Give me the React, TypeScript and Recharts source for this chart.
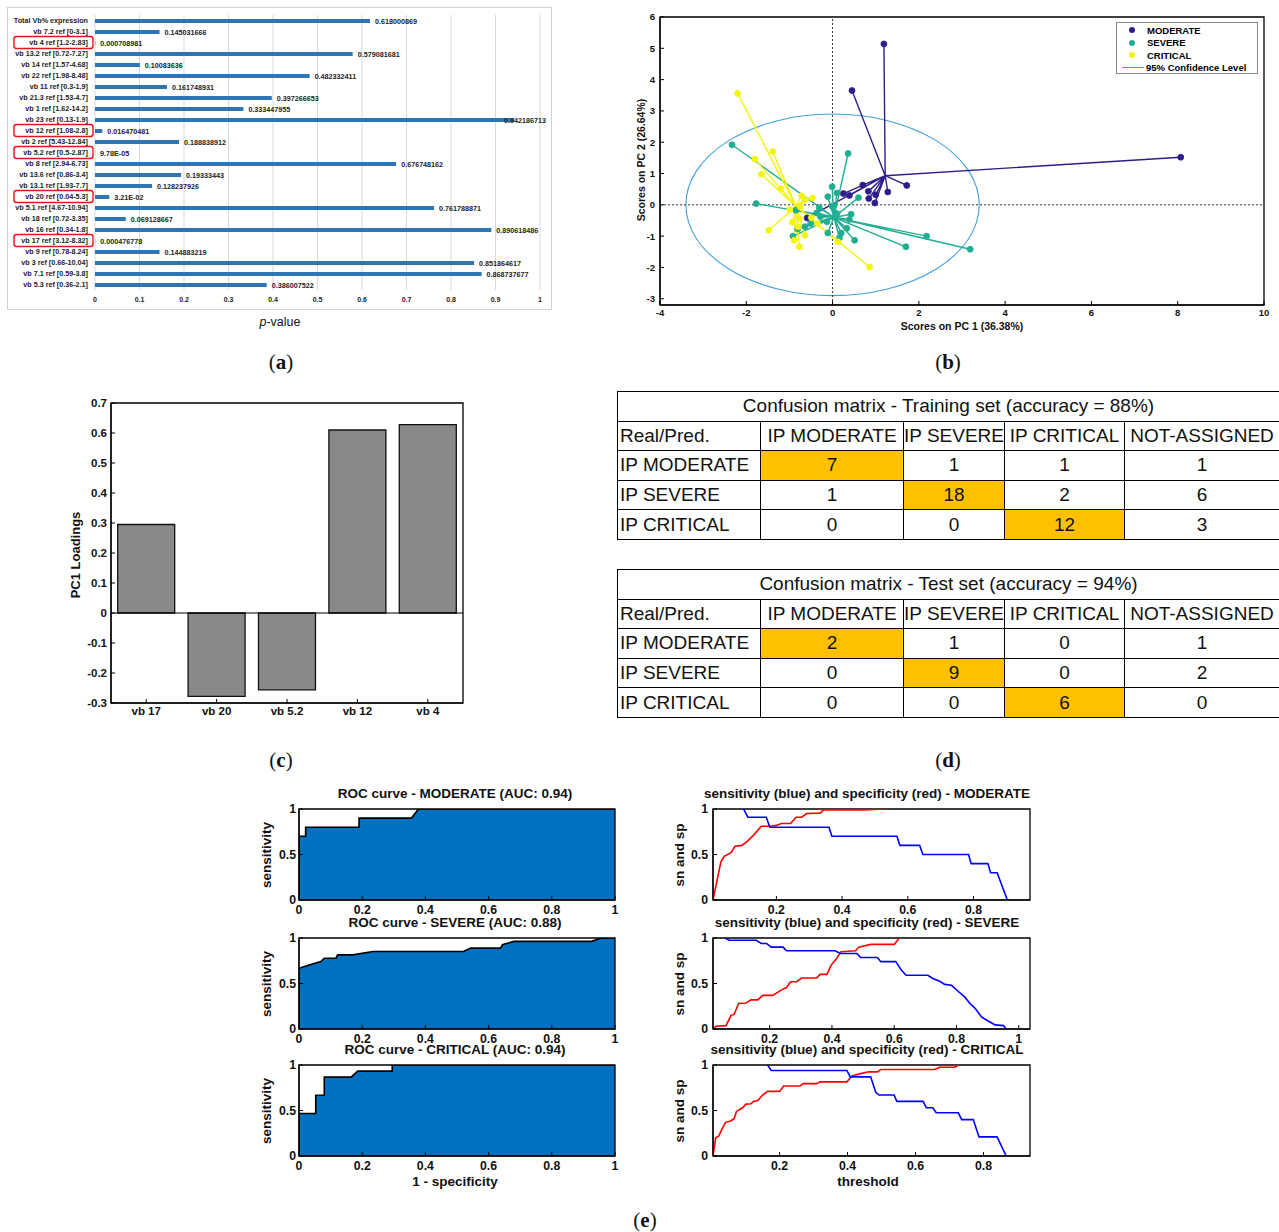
import React from "react";
import {
  BarChart,
  Bar,
  XAxis,
  YAxis,
  CartesianGrid,
  LabelList,
  ScatterChart,
  Scatter,
  ReferenceLine,
  ReferenceArea,
  ComposedChart,
  Area,
  LineChart,
  Line,
} from "recharts";

const FONT = "'Liberation Sans', Arial, Helvetica, sans-serif";
const SERIF = "'Liberation Serif', 'Times New Roman', serif";

// ---------- (a) p-values per Vb family ----------
const pCategories = [
  "Total Vb% expression",
  "vb 7.2  ref [0-3.1]",
  "vb 4  ref [1.2-2.83]",
  "vb 13.2  ref [0.72-7.27]",
  "vb 14  ref [1.57-4.68]",
  "vb 22  ref [1.98-8.48]",
  "vb 11  ref [0.3-1.9]",
  "vb 21.3  ref [1.53-4.7]",
  "vb 1  ref [1.62-14.2]",
  "vb 23  ref [0.13-1.9]",
  "vb 12  ref [1.08-2.8]",
  "vb 2  ref [5.43-12.84]",
  "vb 5.2  ref [0.5-2.87]",
  "vb 8  ref [2.94-6.73]",
  "vb 13.6  ref [0.86-3.4]",
  "vb 13.1  ref [1.93-7.7]",
  "vb 20 ref [0.04-5.3]",
  "vb 5.1 ref [4.67-10.94]",
  "vb 18 ref [0.72-3.35]",
  "vb 16 ref [0.34-1.8]",
  "vb 17 ref [3.12-8.32]",
  "vb 9 ref [0.78-8.24]",
  "vb 3 ref [0.66-10.04]",
  "vb 7.1 ref [0.59-3.8]",
  "vb 5.3 ref [0.36-2.1]",
];
const pValues = [
  0.618000869, 0.145031666, 0.000708981, 0.579081681, 0.10083636, 0.482332411,
  0.161748931, 0.397266653, 0.333447955, 0.942186713, 0.016470481, 0.188838912,
  0.0000978, 0.676748162, 0.19333443, 0.128237926, 0.0321, 0.761788871,
  0.069128667, 0.890618486, 0.000476778, 0.144883219, 0.851864617, 0.868737677,
  0.386007522,
];
const pLabels = [
  "0.618000869", "0.145031666", "0.000708981", "0.579081681", "0.10083636",
  "0.482332411", "0.161748931", "0.397266653", "0.333447955", "0.942186713",
  "0.016470481", "0.188838912", "9.78E-05", "0.676748162", "0.19333443",
  "0.128237926", "3.21E-02", "0.761788871", "0.069128667", "0.890618486",
  "0.000476778", "0.144883219", "0.851864617", "0.868737677", "0.386007522",
];
const pSignificant = [
  "vb 4  ref [1.2-2.83]",
  "vb 12  ref [1.08-2.8]",
  "vb 5.2  ref [0.5-2.87]",
  "vb 20 ref [0.04-5.3]",
  "vb 17 ref [3.12-8.32]",
];
const pTicks = [0, 0.1, 0.2, 0.3, 0.4, 0.5, 0.6, 0.7, 0.8, 0.9, 1];

// ---------- (b) PCA scores ----------
const moderateCenter = { x: 1.22, y: 0.93 };
const moderateScores = [
  { x: 1.19, y: 5.14 }, { x: 0.45, y: 3.65 }, { x: 8.07, y: 1.52 },
  { x: 1.72, y: 0.62 }, { x: 1.28, y: 0.41 }, { x: 0.7, y: 0.63 },
  { x: 1.0, y: 0.32 }, { x: 0.83, y: 0.43 }, { x: 0.98, y: 0.06 },
  { x: 0.84, y: 0.2 }, { x: 0.39, y: 0.3 }, { x: 0.25, y: 0.36 },
  { x: -0.59, y: -0.42 },
];
const severeCenter = { x: 0.03, y: -0.4 };
const severeScores = [
  { x: -2.33, y: 1.92 }, { x: 0.36, y: 1.64 }, { x: -1.77, y: 0.04 },
  { x: -0.01, y: 0.58 }, { x: 0.1, y: 0.38 }, { x: -0.11, y: 0.26 },
  { x: 0.6, y: 0.23 }, { x: -0.85, y: -0.17 }, { x: -0.31, y: -0.09 },
  { x: -0.01, y: -0.04 }, { x: 0.43, y: -0.3 }, { x: 0.39, y: -0.47 },
  { x: 0.33, y: -0.75 }, { x: 0.2, y: -0.9 }, { x: 0.16, y: -1.05 },
  { x: -0.11, y: -0.9 }, { x: 0.51, y: -1.13 }, { x: 1.7, y: -1.34 },
  { x: 2.18, y: -1.0 }, { x: 3.19, y: -1.42 }, { x: -0.92, y: -1.0 },
  { x: -0.81, y: -0.77 }, { x: -0.64, y: -0.7 }, { x: -0.51, y: -0.6 },
  { x: -0.28, y: -0.38 }, { x: -0.13, y: -0.54 }, { x: -0.37, y: -0.26 },
  { x: 0.1, y: -0.28 },
];
const criticalCenter = { x: -0.85, y: -0.05 };
const criticalScores = [
  { x: -2.2, y: 3.56 }, { x: -1.8, y: 1.46 }, { x: -1.39, y: 1.7 },
  { x: -1.65, y: 0.98 }, { x: -1.2, y: 0.52 }, { x: -0.72, y: 0.29 },
  { x: -0.64, y: 0.17 }, { x: -0.47, y: 0.22 }, { x: -0.99, y: -0.15 },
  { x: -0.75, y: -0.06 }, { x: -1.48, y: -0.81 }, { x: -0.93, y: -0.55 },
  { x: -0.89, y: -1.13 }, { x: -0.77, y: -1.34 }, { x: -0.64, y: -0.97 },
  { x: -0.77, y: -0.44 }, { x: -0.49, y: -0.41 }, { x: -0.35, y: -0.6 },
  { x: 0.12, y: -1.18 }, { x: 0.86, y: -1.99 }, { x: -0.8, y: -0.7 },
];
const confidence95 = { cx: 0, cy: 0, rx: 3.4, ry: 2.9 };
const pc1Ticks = [-4, -2, 0, 2, 4, 6, 8, 10];
const pc2Ticks = [-3, -2, -1, 0, 1, 2, 3, 4, 5, 6];

// ---------- (c) PC1 loadings ----------
const loadingVars = ["vb 17", "vb 20", "vb 5.2", "vb 12", "vb 4"];
const loadingValues = [0.295, -0.278, -0.256, 0.61, 0.628];
const loadingTicks = [-0.3, -0.2, -0.1, 0, 0.1, 0.2, 0.3, 0.4, 0.5, 0.6, 0.7];

// ---------- (d) confusion matrices ----------
const cmClasses = ["IP MODERATE", "IP SEVERE", "IP CRITICAL"];
const cmColumns = ["IP MODERATE", "IP SEVERE", "IP CRITICAL", "NOT-ASSIGNED"];
const trainMatrix = [
  [7, 1, 1, 1],
  [1, 18, 2, 6],
  [0, 0, 12, 3],
];
const testMatrix = [
  [2, 1, 0, 1],
  [0, 9, 0, 2],
  [0, 0, 6, 0],
];

// ---------- (e) ROC and sensitivity / specificity ----------
const rocModerate: [number, number][] = [
  [0, 0], [0, 0.7], [0.021, 0.7], [0.021, 0.8], [0.19, 0.8], [0.19, 0.9],
  [0.356, 0.9], [0.378, 1], [1, 1],
];
const rocSevere: [number, number][] = [
  [0, 0], [0, 0.667], [0.032, 0.704], [0.069, 0.741], [0.08, 0.778],
  [0.117, 0.778], [0.122, 0.815], [0.17, 0.815], [0.234, 0.852], [0.52, 0.852],
  [0.543, 0.889], [0.638, 0.889], [0.644, 0.926], [0.68, 0.963], [0.926, 0.963],
  [0.957, 1], [1, 1],
];
const rocCritical: [number, number][] = [
  [0, 0], [0, 0.467], [0.053, 0.467], [0.053, 0.667], [0.08, 0.667],
  [0.08, 0.867], [0.165, 0.867], [0.186, 0.933], [0.295, 0.933], [0.295, 1],
  [1, 1],
];

const snModerate: [number, number][] = [
  [0.1, 1], [0.113, 0.91], [0.169, 0.91], [0.18, 0.8], [0.36, 0.8],
  [0.369, 0.7], [0.567, 0.7], [0.576, 0.6], [0.636, 0.6], [0.646, 0.5],
  [0.785, 0.5], [0.793, 0.4], [0.844, 0.4], [0.852, 0.3], [0.872, 0.3],
  [0.903, 0],
];
const spModerate: [number, number][] = [
  [0.007, 0], [0.031, 0.42], [0.041, 0.48], [0.062, 0.52], [0.074, 0.59],
  [0.095, 0.6], [0.113, 0.65], [0.13, 0.71], [0.154, 0.81], [0.18, 0.81],
  [0.2, 0.82], [0.215, 0.84], [0.243, 0.84], [0.26, 0.91], [0.277, 0.91],
  [0.292, 0.95], [0.333, 0.955], [0.344, 0.99], [0.467, 0.99], [0.526, 1],
];
const snSevere: [number, number][] = [
  [0.057, 1], [0.07, 0.975], [0.157, 0.975], [0.173, 0.94], [0.19, 0.94],
  [0.205, 0.9], [0.243, 0.9], [0.254, 0.86], [0.41, 0.86], [0.427, 0.83],
  [0.48, 0.83], [0.492, 0.785], [0.546, 0.785], [0.557, 0.74], [0.605, 0.74],
  [0.622, 0.65], [0.638, 0.59], [0.708, 0.59], [0.724, 0.555], [0.746, 0.525],
  [0.762, 0.49], [0.784, 0.48], [0.805, 0.415], [0.827, 0.35], [0.843, 0.28],
  [0.859, 0.23], [0.881, 0.13], [0.903, 0.085], [0.924, 0.045], [0.951, 0.037],
  [0.959, 0],
];
const spSevere: [number, number][] = [
  [0.018, 0], [0.027, 0.03], [0.06, 0.037], [0.076, 0.15], [0.086, 0.16],
  [0.1, 0.28], [0.124, 0.285], [0.14, 0.32], [0.162, 0.32], [0.178, 0.37],
  [0.21, 0.37], [0.238, 0.43], [0.254, 0.455], [0.267, 0.52], [0.286, 0.52],
  [0.303, 0.56], [0.351, 0.56], [0.362, 0.6], [0.384, 0.6], [0.397, 0.7],
  [0.416, 0.78], [0.429, 0.85], [0.476, 0.86], [0.486, 0.9], [0.524, 0.93],
  [0.6, 0.93], [0.616, 1],
];
const snCritical: [number, number][] = [
  [0.165, 1], [0.175, 0.94], [0.398, 0.94], [0.408, 0.87], [0.468, 0.87],
  [0.483, 0.7], [0.493, 0.67], [0.537, 0.67], [0.545, 0.6], [0.622, 0.6],
  [0.632, 0.53], [0.651, 0.53], [0.661, 0.475], [0.726, 0.475], [0.736, 0.4],
  [0.77, 0.4], [0.787, 0.21], [0.84, 0.21], [0.867, 0],
];
const spCritical: [number, number][] = [
  [0.004, 0], [0.012, 0.2], [0.021, 0.22], [0.031, 0.3], [0.041, 0.37],
  [0.056, 0.385], [0.066, 0.41], [0.073, 0.49], [0.091, 0.53], [0.101, 0.57],
  [0.116, 0.575], [0.123, 0.6], [0.136, 0.61], [0.15, 0.67], [0.165, 0.71],
  [0.2, 0.71], [0.212, 0.77], [0.26, 0.77], [0.27, 0.795], [0.309, 0.795],
  [0.319, 0.815], [0.398, 0.815], [0.413, 0.88], [0.438, 0.905], [0.463, 0.925],
  [0.488, 0.925], [0.498, 0.95], [0.656, 0.95], [0.671, 0.975], [0.716, 0.975],
  [0.726, 1],
];
const rocTicks = [0, 0.2, 0.4, 0.6, 0.8, 1];
const unitTicks = [0, 0.5, 1];

const toXY = (pts: [number, number][]) => pts.map(([x, y]) => ({ x, y }));

// MATLAB-like axes: bold tick labels and small inward ticks
type FrameOpts = {
  xDomain?: [number, number];
  xTicks?: number[];
  xKey?: string;
  xCategory?: boolean;
  yDomain: [number, number];
  yTicks: number[];
  yKey?: string;
  yWidth: number;
  xHeight: number;
  xTickMargin: number;
  yTickMargin: number;
  fontSize: number;
};

function frameAxes(o: FrameOpts) {
  const tick = { fontSize: o.fontSize, fontWeight: 700, fill: "#111", fontFamily: FONT };
  const axisLine = { stroke: "#000", strokeWidth: 1.2 };
  const tickLine = { stroke: "#000", strokeWidth: 1 };
  const xProps: any = o.xCategory
    ? { type: "category", dataKey: o.xKey }
    : { type: "number", dataKey: o.xKey, domain: o.xDomain, ticks: o.xTicks, allowDataOverflow: true };
  const yProps: any = { type: "number", dataKey: o.yKey, domain: o.yDomain, ticks: o.yTicks, allowDataOverflow: true };
  return [
    <XAxis key="xb" {...xProps} height={o.xHeight} tick={tick} tickSize={-4} tickMargin={o.xTickMargin}
      axisLine={axisLine} tickLine={tickLine} interval={0} />,
    <YAxis key="yl" {...yProps} width={o.yWidth} tick={tick} tickSize={-4} tickMargin={o.yTickMargin}
      axisLine={axisLine} tickLine={tickLine} interval={0} />,
  ];
}

// closed box around the plot area: y spans the domain, x left open = full width
const plotBox = (yDomain: [number, number]) => (
  <ReferenceArea key="box" y1={yDomain[0]} y2={yDomain[1]} fill="none" fillOpacity={0}
    stroke="#000" strokeWidth={1.3} ifOverflow="visible" />
);

const Txt = ({ x, y, size, bold = true, rotate = false, family = FONT, children }: any) => (
  <div
    style={{
      position: "absolute",
      left: x,
      top: y,
      transform: `translate(-50%, -50%)${rotate ? " rotate(-90deg)" : ""}`,
      fontSize: size,
      fontWeight: bold ? 700 : 400,
      fontFamily: family,
      whiteSpace: "nowrap",
      lineHeight: 1,
      color: "#111",
    }}
  >
    {children}
  </div>
);

const PanelTag = ({ x, y, letter }: { x: number; y: number; letter: string }) => (
  <Txt x={x} y={y} size={21} bold={false} family={SERIF}>
    (<b>{letter}</b>)
  </Txt>
);

// ---------- (a) ----------
const CategoryTick = (props: any) => {
  const { x, y, payload } = props;
  const boxed = pSignificant.includes(payload.value);
  return (
    <g>
      {boxed && (
        <rect x={x - 74} y={y - 6} width={79} height={12} rx={2.5} fill="none" stroke="#e8141b" strokeWidth={1.4} />
      )}
      <text x={x} y={y} dy={2.6} textAnchor="end" fontSize={7.2} fontWeight={700} fill="#222" fontFamily={FONT}>
        {payload.value}
      </text>
    </g>
  );
};

// value label at the bar end, pulled back inside the frame when it would run out
const PValueLabel = (props: any) => {
  const { x, y, width, height, value } = props;
  const size = 7.2;
  const textWidth = String(value).length * size * 0.556;
  let tx = x + width + 5;
  if (tx + textWidth > 541) tx = 541 - textWidth;
  return (
    <text x={tx} y={y + height / 2} dy={2.6} fontSize={size} fontWeight={700} fill="#222" fontFamily={FONT}>
      {value}
    </text>
  );
};

function PValuePanel() {
  const data = pCategories.map((name, i) => ({ name, p: pValues[i], label: pLabels[i] }));
  return (
    <div style={{ position: "absolute", left: 7, top: 7, width: 545, height: 303 }}>
      <BarChart width={545} height={303} data={data} layout="vertical" barSize={4}
        margin={{ top: 8, right: 12, bottom: 0, left: 0 }}>
        <CartesianGrid horizontal={false} stroke="#d9d9d9" />
        <XAxis type="number" domain={[0, 1]} ticks={pTicks} interval={0} height={20} axisLine={false}
          tickLine={false} tickSize={0} tickMargin={7}
          tick={{ fontSize: 7, fontWeight: 700, fill: "#222", fontFamily: FONT }} />
        <YAxis type="category" dataKey="name" width={88} interval={0} axisLine={false} tickLine={false}
          tickSize={0} tickMargin={7} tick={<CategoryTick />} />
        <Bar dataKey="p" fill="#2E75B6" isAnimationActive={false}>
          <LabelList dataKey="label" content={<PValueLabel />} />
        </Bar>
      </BarChart>
      <div style={{ position: "absolute", left: 0, top: 0, width: 545, height: 303, border: "1px solid #d0d0d0", boxSizing: "border-box" }} />
    </div>
  );
}

// ---------- (b) ----------
const scoreGroups = [
  { name: "MODERATE", color: "#2d1e8c", center: moderateCenter, points: moderateScores },
  { name: "SEVERE", color: "#1fae91", center: severeCenter, points: severeScores },
  { name: "CRITICAL", color: "#f4f414", center: criticalCenter, points: criticalScores },
];

function ScoresPanel() {
  return (
    <div style={{ position: "absolute", left: 630, top: 7 }}>
      <ScatterChart width={649} height={318} margin={{ top: 10, right: 15, bottom: 0, left: 0 }}>
        {frameAxes({
          xDomain: [-4, 10], xTicks: pc1Ticks, xKey: "x",
          yDomain: [-3.2, 6], yTicks: pc2Ticks, yKey: "y",
          yWidth: 30, xHeight: 20, xTickMargin: 8, yTickMargin: 9, fontSize: 9.5,
        })}
        <ReferenceArea
          x1={confidence95.cx - confidence95.rx}
          x2={confidence95.cx + confidence95.rx}
          y1={confidence95.cy - confidence95.ry}
          y2={confidence95.cy + confidence95.ry}
          shape={(p: any) => (
            <ellipse cx={p.x + p.width / 2} cy={p.y + p.height / 2} rx={p.width / 2} ry={p.height / 2}
              fill="none" stroke="#3f9fdc" strokeWidth={1.1} />
          )}
        />
        <ReferenceLine x={0} stroke="#333" strokeDasharray="2 2" />
        <ReferenceLine y={0} stroke="#333" strokeDasharray="2 2" />
        {scoreGroups.map((g) => (
          <Scatter key={g.name + "-spokes"} data={g.points.flatMap((p) => [g.center, p])}
            line={{ stroke: g.color, strokeWidth: 1.4 }} shape={() => <g />} isAnimationActive={false} />
        ))}
        {scoreGroups.map((g) => (
          <Scatter key={g.name} name={g.name} data={g.points} isAnimationActive={false}
            shape={(p: any) => <circle cx={p.cx} cy={p.cy} r={3} fill={g.color} stroke={g.color} strokeWidth={0.8} />} />
        ))}
        {plotBox([-3.2, 6])}
      </ScatterChart>
      <div style={{ position: "absolute", left: 486, top: 15, width: 142, height: 52, border: "1px solid #888", background: "#fff", boxSizing: "border-box", fontFamily: FONT, fontSize: 9.5, fontWeight: 700 }}>
        {scoreGroups.map((g, i) => (
          <div key={g.name} style={{ position: "absolute", left: 0, top: 1 + i * 12.5, height: 12, display: "flex", alignItems: "center" }}>
            <span style={{ display: "inline-block", width: 6, height: 6, borderRadius: 3, background: g.color, marginLeft: 12, marginRight: 12 }} />
            {g.name}
          </div>
        ))}
        <div style={{ position: "absolute", left: 0, top: 38.5, height: 12, display: "flex", alignItems: "center" }}>
          <span style={{ display: "inline-block", width: 22, height: 1.5, background: "#3f9fdc", marginLeft: 5, marginRight: 2 }} />
          95% Confidence Level
        </div>
      </div>
    </div>
  );
}

// ---------- (c) ----------
function LoadingsPanel() {
  const data = loadingVars.map((name, i) => ({ name, loading: loadingValues[i] }));
  return (
    <div style={{ position: "absolute", left: 80, top: 395 }}>
      <BarChart width={393} height={328} data={data} barCategoryGap="9.5%"
        margin={{ top: 8, right: 10, bottom: 0, left: 0 }}>
        {frameAxes({
          xCategory: true, xKey: "name",
          yDomain: [-0.3, 0.7], yTicks: loadingTicks,
          yWidth: 31, xHeight: 20, xTickMargin: 8, yTickMargin: 8, fontSize: 11.5,
        })}
        <Bar dataKey="loading" fill="#898989" stroke="#111" strokeWidth={1.3} isAnimationActive={false} />
        <ReferenceLine y={0} stroke="#000" strokeWidth={1.2} />
        {plotBox([-0.3, 0.7])}
      </BarChart>
    </div>
  );
}

// ---------- (d) ----------
const colWidths = [143, 143, 101, 120, 155];
const cell: React.CSSProperties = {
  border: "1px solid #000",
  padding: 0,
  height: 28.6,
  lineHeight: "28px",
  textAlign: "center",
  whiteSpace: "nowrap",
  overflow: "hidden",
};

function ConfusionTable({ top, title, matrix }: { top: number; title: string; matrix: number[][] }) {
  return (
    <table style={{ position: "absolute", left: 617, top, width: 662, borderCollapse: "collapse", tableLayout: "fixed", fontFamily: FONT, fontSize: 19, color: "#111" }}>
      <colgroup>
        {colWidths.map((w, i) => (
          <col key={i} style={{ width: w }} />
        ))}
      </colgroup>
      <tbody>
        <tr>
          <td colSpan={5} style={cell}>{title}</td>
        </tr>
        <tr>
          <td style={{ ...cell, textAlign: "left", paddingLeft: 2 }}>Real/Pred.</td>
          {cmColumns.map((c) => (
            <td key={c} style={cell}>{c}</td>
          ))}
        </tr>
        {cmClasses.map((r, i) => (
          <tr key={r}>
            <td style={{ ...cell, textAlign: "left", paddingLeft: 2 }}>{r}</td>
            {matrix[i].map((v, j) => (
              <td key={j} style={{ ...cell, background: i === j ? "#FFC000" : "#fff" }}>{v}</td>
            ))}
          </tr>
        ))}
      </tbody>
    </table>
  );
}

// ---------- (e) ----------
function RocChart({ top, curve }: { top: number; curve: [number, number][] }) {
  return (
    <div style={{ position: "absolute", left: 269, top: top - 5 }}>
      <ComposedChart width={351} height={119} data={toXY(curve)} margin={{ top: 10, right: 5, bottom: 0, left: 0 }}>
        {frameAxes({
          xDomain: [0, 1], xTicks: rocTicks, xKey: "x",
          yDomain: [0, 1], yTicks: unitTicks,
          yWidth: 30, xHeight: 18, xTickMargin: 9, yTickMargin: 7, fontSize: 12.3,
        })}
        <Area type="linear" dataKey="y" fill="#0070C0" fillOpacity={1} stroke="#000" strokeWidth={1.6}
          baseValue={0} isAnimationActive={false} />
        {plotBox([0, 1])}
      </ComposedChart>
    </div>
  );
}

function SnSpChart({ top, sn, sp, domain, ticks }: { top: number; sn: [number, number][]; sp: [number, number][]; domain: [number, number]; ticks: number[] }) {
  return (
    <div style={{ position: "absolute", left: 683, top: top - 5 }}>
      <LineChart width={352} height={119} margin={{ top: 10, right: 5, bottom: 0, left: 0 }}>
        {frameAxes({
          xDomain: domain, xTicks: ticks, xKey: "x",
          yDomain: [0, 1], yTicks: unitTicks,
          yWidth: 30, xHeight: 18, xTickMargin: 9, yTickMargin: 9, fontSize: 12.3,
        })}
        <Line data={toXY(sp)} dataKey="y" type="linear" stroke="#ff0000" strokeWidth={1.6} dot={false} isAnimationActive={false} />
        <Line data={toXY(sn)} dataKey="y" type="linear" stroke="#0000ff" strokeWidth={1.6} dot={false} isAnimationActive={false} />
        {plotBox([0, 1])}
      </LineChart>
    </div>
  );
}

const rocRows = [
  { top: 804, title: "ROC curve - MODERATE (AUC: 0.94)", curve: rocModerate, snTitle: "sensitivity (blue) and specificity (red) - MODERATE", sn: snModerate, sp: spModerate, domain: [0.007, 0.972] as [number, number], ticks: [0.2, 0.4, 0.6, 0.8] },
  { top: 933, title: "ROC curve - SEVERE (AUC: 0.88)", curve: rocSevere, snTitle: "sensitivity (blue) and specificity (red) - SEVERE", sn: snSevere, sp: spSevere, domain: [0.018, 1.036] as [number, number], ticks: [0.2, 0.4, 0.6, 0.8, 1] },
  { top: 1060, title: "ROC curve - CRITICAL (AUC: 0.94)", curve: rocCritical, snTitle: "sensitivity (blue) and specificity (red) - CRITICAL", sn: snCritical, sp: spCritical, domain: [0.004, 0.937] as [number, number], ticks: [0.2, 0.4, 0.6, 0.8] },
];

export default function App() {
  return (
    <div style={{ position: "absolute", left: 0, top: 0, width: 1279, height: 1232, background: "#fff", fontFamily: FONT, overflow: "hidden" }}>
      <PValuePanel />
      <Txt x={280} y={322} size={12.5} bold={false}>
        <i>p</i>-value
      </Txt>
      <PanelTag x={281} y={362} letter="a" />

      <ScoresPanel />
      <Txt x={962} y={326} size={10.5}>Scores on PC 1 (36.38%)</Txt>
      <Txt x={641} y={160} size={10.5} rotate>Scores on PC 2 (26.64%)</Txt>
      <PanelTag x={948} y={362} letter="b" />

      <LoadingsPanel />
      <Txt x={75} y={555} size={13} rotate>PC1 Loadings</Txt>
      <PanelTag x={281} y={760} letter="c" />

      <ConfusionTable top={391} title="Confusion matrix - Training set (accuracy = 88%)" matrix={trainMatrix} />
      <ConfusionTable top={569} title="Confusion matrix - Test set (accuracy = 94%)" matrix={testMatrix} />
      <PanelTag x={948} y={760} letter="d" />

      {rocRows.map((r) => (
        <React.Fragment key={r.title}>
          <RocChart top={r.top} curve={r.curve} />
          <SnSpChart top={r.top} sn={r.sn} sp={r.sp} domain={r.domain} ticks={r.ticks} />
          <Txt x={455} y={r.top - 10} size={13.5}>{r.title}</Txt>
          <Txt x={867} y={r.top - 10} size={13.5}>{r.snTitle}</Txt>
          <Txt x={267} y={r.top + 51} size={13.5} rotate>sensitivity</Txt>
          <Txt x={680} y={r.top + 51} size={13.5} rotate>sn and sp</Txt>
        </React.Fragment>
      ))}
      <Txt x={455} y={1182} size={13.5}>1 - specificity</Txt>
      <Txt x={868} y={1182} size={13.5}>threshold</Txt>
      <PanelTag x={645} y={1220} letter="e" />
    </div>
  );
}
